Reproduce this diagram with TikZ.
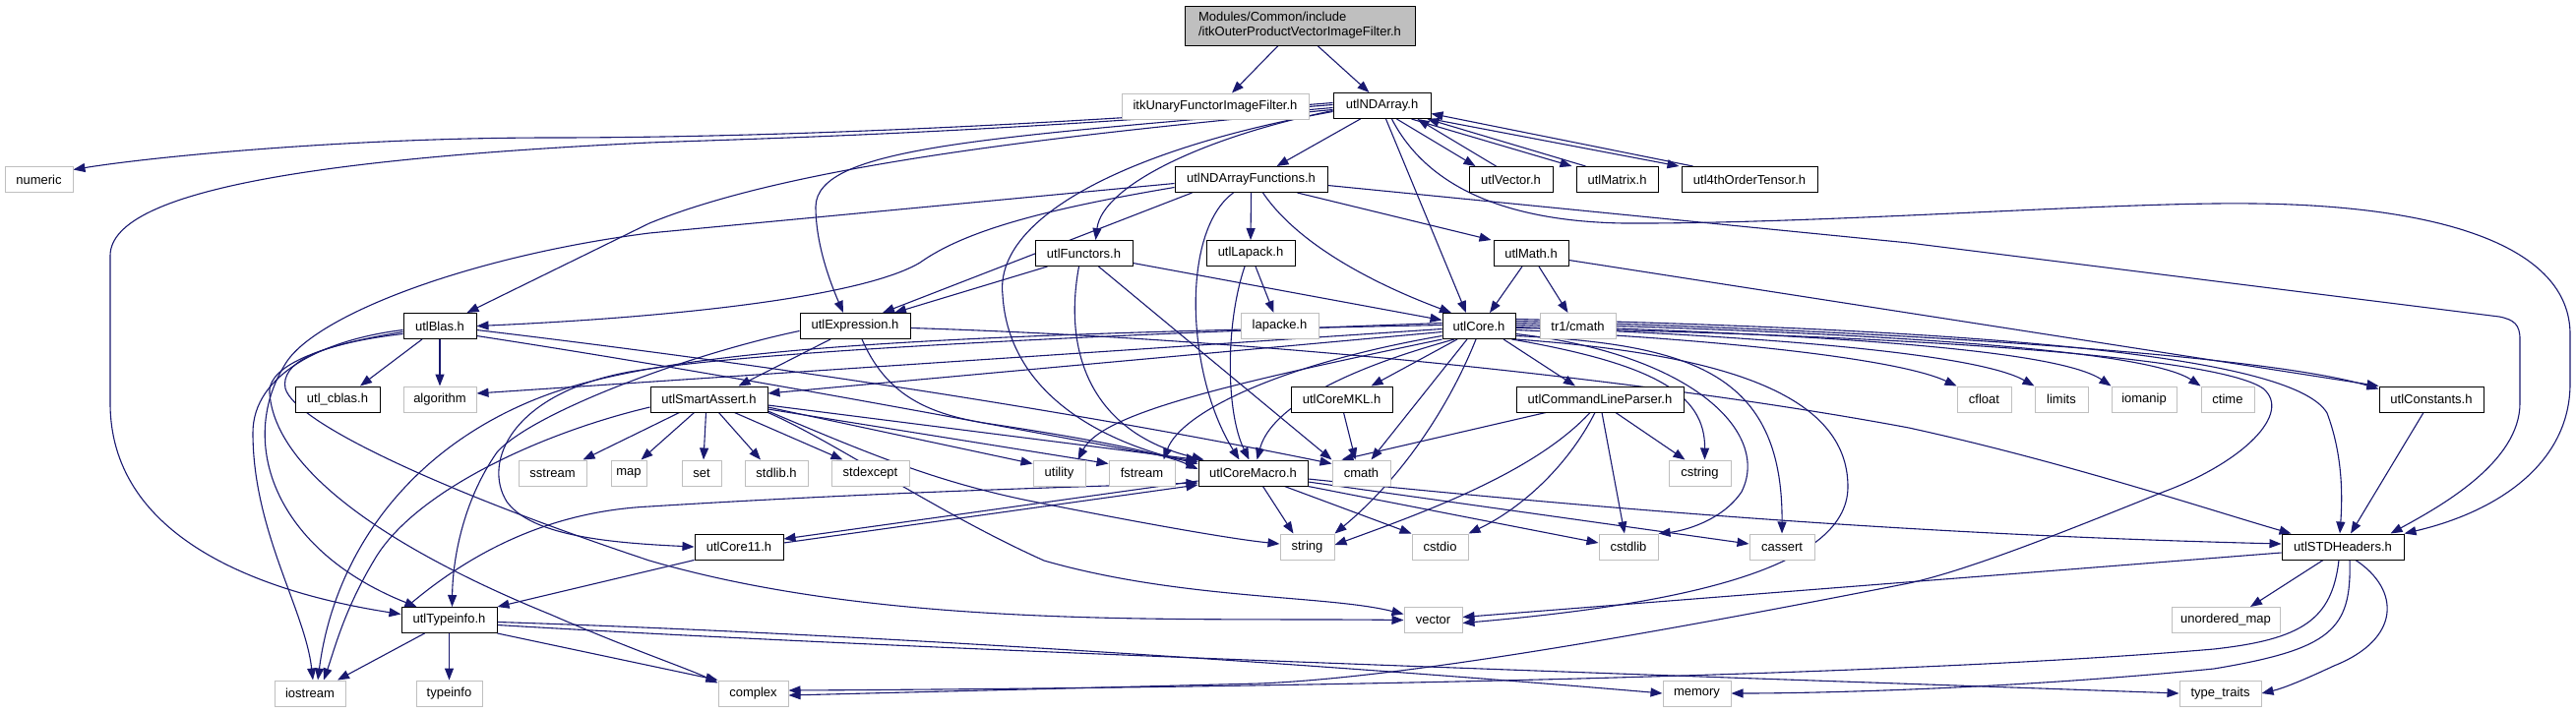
\documentclass[tikz,border=0pt]{standalone}
\usepackage{fontspec}
\setmainfont{Liberation Sans}
\usetikzlibrary{arrows.meta}
\pgfdeclarelayer{bg}
\pgfsetlayers{bg,main}
\definecolor{edgec}{HTML}{191970}
\definecolor{grayc}{HTML}{BFBFBF}
\newcommand{\gfont}{\fontsize{13}{15}\selectfont}
\tikzset{
  edg/.style={draw=edgec, line width=1.1pt, -{Triangle[length=12pt,width=9pt]}},
  bx/.style={draw=black, fill=white, line width=1pt, inner sep=0pt, minimum height=26pt, font=\gfont},
  gx/.style={draw=grayc, fill=white, line width=1pt, inner sep=0pt, minimum height=26pt, font=\gfont},
}
\begin{document}
\begin{tikzpicture}[x=1pt,y=-1pt]
\useasboundingbox (0,0) rectangle (2618,724);
% nodes
\node[bx, fill=grayc, minimum width=234pt, minimum height=40pt, align=left] (main) at (1321,26) {Modules/Common/include\\/itkOuterProductVectorImageFilter.h};
\node[gx, minimum width=190pt] (itkU) at (1235,108) {itkUnaryFunctorImageFilter.h};
\node[bx, minimum width=99pt] (NDA) at (1404.5,107.5) {utlNDArray.h};
\node[gx, minimum width=69pt] (numeric) at (39.5,182.5) {numeric};
\node[bx, minimum width=155pt] (NDAF) at (1271.5,182.5) {utlNDArrayFunctions.h};
\node[bx, minimum width=85pt] (Vec) at (1535.5,182.5) {utlVector.h};
\node[bx, minimum width=83pt] (Mat) at (1643.5,182.5) {utlMatrix.h};
\node[bx, minimum width=138pt] (Ten) at (1778,182.5) {utl4thOrderTensor.h};
\node[bx, minimum width=99pt] (Fun) at (1101.5,257.5) {utlFunctors.h};
\node[bx, minimum width=90pt] (Lap) at (1271,257.5) {utlLapack.h};
\node[bx, minimum width=76pt] (Math) at (1556,257.5) {utlMath.h};
\node[bx, minimum width=74pt] (Blas) at (447,331.5) {utlBlas.h};
\node[bx, minimum width=112pt] (Expr) at (869,331.5) {utlExpression.h};
\node[gx, minimum width=79pt] (lapacke) at (1300.5,331.5) {lapacke.h};
\node[bx, minimum width=74pt] (Core) at (1503,331.5) {utlCore.h};
\node[gx, minimum width=77pt] (trcmath) at (1603.5,331.5) {tr1/cmath};
\node[bx, minimum width=86pt] (cblas) at (343,406) {utl\_cblas.h};
\node[gx, minimum width=74pt] (algo) at (447,406) {algorithm};
\node[bx, minimum width=119pt] (SA) at (720.5,406) {utlSmartAssert.h};
\node[bx, minimum width=103pt] (MKL) at (1363.5,406) {utlCoreMKL.h};
\node[bx, minimum width=170pt] (CLP) at (1626,406) {utlCommandLineParser.h};
\node[gx, minimum width=55pt] (cfloat) at (2016.5,406) {cfloat};
\node[gx, minimum width=54pt] (limits) at (2095,406) {limits};
\node[gx, minimum width=66pt] (iomanip) at (2179,406) {iomanip};
\node[gx, minimum width=54pt] (ctime) at (2264,406) {ctime};
\node[bx, minimum width=106pt] (Const) at (2471,406) {utlConstants.h};
\node[gx, minimum width=69pt] (sstream) at (561.5,481) {sstream};
\node[gx, minimum width=36pt] (map) at (639,481) {map};
\node[gx, minimum width=40pt] (set) at (713,481) {set};
\node[gx, minimum width=64pt] (stdlibh) at (789,481) {stdlib.h};
\node[gx, minimum width=79pt] (stdexc) at (884.5,481) {stdexcept};
\node[gx, minimum width=53pt] (utility) at (1076.5,481) {utility};
\node[gx, minimum width=67pt] (fstream) at (1160.5,481) {fstream};
\node[bx, minimum width=111pt] (CM) at (1273.5,481) {utlCoreMacro.h};
\node[gx, minimum width=59pt] (cmath) at (1383.5,481) {cmath};
\node[gx, minimum width=63pt] (cstring) at (1727.5,481) {cstring};
\node[bx, minimum width=90pt] (C11) at (751,556) {utlCore11.h};
\node[gx, minimum width=55pt] (string) at (1328.5,556) {string};
\node[gx, minimum width=57pt] (cstdio) at (1463.5,556) {cstdio};
\node[gx, minimum width=60pt] (cstdlib) at (1655,556) {cstdlib};
\node[gx, minimum width=66pt] (cassert) at (1811,556) {cassert};
\node[bx, minimum width=124pt] (STD) at (2381,556) {utlSTDHeaders.h};
\node[bx, minimum width=97pt] (TI) at (456.5,630.5) {utlTypeinfo.h};
\node[gx, minimum width=59pt] (vector) at (1456.5,630.5) {vector};
\node[gx, minimum width=110pt] (umap) at (2262,630.5) {unordered\_map};
\node[gx, minimum width=72pt] (iostream) at (315,705) {iostream};
\node[gx, minimum width=67pt] (typeinfo) at (456.5,705) {typeinfo};
\node[gx, minimum width=71pt] (complex) at (765.5,705) {complex};
\node[gx, minimum width=69pt] (memory) at (1724.5,705) {memory};
\node[gx, minimum width=83pt] (ttraits) at (2256.5,705) {type\_traits};

\begin{pgfonlayer}{bg}
\fill[white] (0,0) rectangle (2618,724);
% main
\draw[edg] ([xshift=-22pt]main.south) -- ([xshift=17pt]itkU.north);
\draw[edg] ([xshift=18pt]main.south) -- ([xshift=-13pt]NDA.north);
% utlNDArray
\draw[edg] ([yshift=3pt]NDA.west) .. controls (1100,125) and (800,140) .. (560,140) .. controls (350,140) and (150,160) .. ([yshift=10pt]numeric.east);
\draw[edg] ([yshift=1pt]NDA.west) .. controls (1000,135) and (800,140) .. (660,145) .. controls (350,160) and (112,190) .. (112,260) -- (112,410) .. controls (112,540) and (250,600) .. ([yshift=6pt]TI.west);
\draw[edg] ([yshift=-4pt]NDA.west) .. controls (1050,140) and (800,170) .. (660,227) -- ([xshift=-10pt]Blas.north east);
\draw[edg] ([yshift=-2pt]NDA.west) .. controls (1000,140) and (830,150) .. (829,210) .. controls (829,250) and (845,290) .. ([xshift=-12pt]Expr.north);
\draw[edg] ([xshift=-22pt]NDA.south) -- ([xshift=26pt]NDAF.north);
\draw[edg] ([yshift=-5pt]NDA.west) .. controls (1220,140) and (1120,190) .. ([xshift=12pt]Fun.north);
\draw[edg] ([yshift=-6pt]NDA.west) .. controls (1150,150) and (1010,220) .. (1019,300) .. controls (1025,400) and (1120,450) .. ([yshift=-4pt]CM.north west);
\draw[edg] ([xshift=4pt]NDA.south) -- ([xshift=-13pt]Core.north);
\draw[edg] ([xshift=15pt]NDA.south) -- ([xshift=-36pt]Vec.north);
\draw[edg] ([xshift=-15pt]Vec.north) -- ([xshift=-14pt]NDA.south east);
\draw[edg] ([xshift=-20pt]NDA.south east) -- ([xshift=-4pt]Mat.north west);
\draw[edg] ([xshift=10pt]Mat.north west) -- ([xshift=-4pt]NDA.south east);
\draw[edg] (NDA.south east) -- ([xshift=-2pt]Ten.north west);
\draw[edg] ([xshift=12pt]Ten.north west) -- ([yshift=-8pt]NDA.east);
\draw[edg] ([xshift=10pt]NDA.south) .. controls (1450,190) and (1530,225) .. (1650,227) .. controls (1850,228) and (2150,205) .. (2290,207) .. controls (2480,209) and (2612,250) .. (2612,340) -- (2612,390) .. controls (2612,470) and (2540,520) .. (STD.north east);
% utlNDArrayFunctions
\draw[edg] ([yshift=-8pt]NDAF.west) .. controls (1060,213) and (980,235) .. (935,267) .. controls (880,300) and (700,322) .. (Blas.east);
\draw[edg] ([xshift=-60pt]NDAF.south) -- ([xshift=28pt]Expr.north);
\draw[edg] ([yshift=-4pt]NDAF.west) -- (660,237) .. controls (480,260) and (320,320) .. (290,370) .. controls (240,450) and (280,560) .. ([xshift=16pt]TI.north west);
\draw[edg] (NDAF.south) -- (Lap.north);
\draw[edg] ([xshift=47pt]NDAF.south) -- ([xshift=-2pt]Math.north west);
\draw[edg] ([xshift=12pt]NDAF.south) .. controls (1320,250) and (1400,290) .. ([xshift=-28pt]Core.north);
\draw[edg] ([xshift=-18pt]NDAF.south) .. controls (1200,235) and (1205,380) .. ([xshift=-14pt]CM.north);
\draw[edg] ([yshift=-6pt]NDAF.east) -- (1940,247) -- (2540,322) .. controls (2555,325) and (2561,330) .. (2561,345) -- (2561,410) .. controls (2561,470) and (2480,515) .. ([xshift=-14pt]STD.north east);
% utlFunctors
\draw[edg] ([xshift=-37pt]Fun.south) -- ([xshift=40pt]Expr.north);
\draw[edg] ([yshift=-10pt]Fun.east) -- ([yshift=6pt]Core.west);
\draw[edg] ([xshift=-5pt]Fun.south) .. controls (1080,360) and (1110,440) .. ([xshift=6pt]CM.north west);
\draw[edg] ([xshift=15pt]Fun.south) -- (cmath.north west);
% utlLapack
\draw[edg] ([xshift=5pt]Lap.south) -- ([xshift=-6pt]lapacke.north);
\draw[edg] ([xshift=-6pt]Lap.south) .. controls (1245,330) and (1246,420) .. ([xshift=-4pt]CM.north);
% utlMath
\draw[edg] ([xshift=-9pt]Math.south) -- ([xshift=11pt]Core.north);
\draw[edg] ([xshift=8pt]Math.south) -- ([xshift=-10pt]trcmath.north);
\draw[edg] ([yshift=-7pt]Math.east) -- (Const.north west);
% utlBlas
\draw[edg] ([xshift=-18pt]Blas.south) -- ([xshift=23pt]cblas.north);
\draw[edg] (Blas) -- (algo);
\draw[edg] ([yshift=-4pt]Blas.east) .. controls (900,385) and (1200,440) .. ([yshift=-4pt]cmath.north west);
\draw[edg] ([yshift=-10pt]Blas.east) .. controls (800,390) and (1100,450) .. ([yshift=-2pt]CM.north west);
\draw[edg] ([yshift=-4pt]Blas.west) .. controls (330,345) and (257,380) .. (257,440) .. controls (257,540) and (310,620) .. ([xshift=3pt]iostream.north);
\draw[edg] ([yshift=-6pt]Blas.west) .. controls (300,355) and (272,380) .. (274,400) .. controls (280,480) and (400,560) .. (560,625) .. controls (640,660) and (700,680) .. ([yshift=-3pt]complex.north west);
\draw[edg] ([yshift=-8pt]Blas.west) .. controls (320,350) and (285,370) .. (290,395) .. controls (300,430) and (450,500) .. (660,570) .. controls (900,640) and (1200,628) .. (vector.west);
% utlExpression
\draw[edg] ([xshift=-25pt]Expr.south) -- ([xshift=30pt]SA.north);
\draw[edg] ([xshift=7pt]Expr.south) .. controls (900,400) and (940,420) .. (1000,430) .. controls (1100,445) and (1180,460) .. ([yshift=4pt]CM.west);
\draw[edg] ([yshift=-5pt]Expr.west) .. controls (700,360) and (540,420) .. (505,460) .. controls (470,510) and (460,570) .. ([xshift=3pt]TI.north);
\draw[edg] ([yshift=-2pt]Expr.east) .. controls (1300,345) and (1700,390) .. (1940,435) .. controls (2100,470) and (2250,520) .. ([xshift=10pt]STD.north west);
% utlCore
\draw[edg] ([yshift=-3pt]Core.west) -- ([yshift=6pt]algo.east);
\draw[edg] ([yshift=-6pt]Core.west) -- ([yshift=6pt]SA.east);
\draw[edg] ([xshift=-22pt]Core.south) -- ([xshift=30pt]MKL.north);
\draw[edg] ([xshift=25pt]Core.south) -- ([xshift=-25pt]CLP.north);
\draw[edg] ([xshift=-12pt]Core.south) -- ([xshift=10pt]cmath.north);
\draw[edg] ([xshift=-3pt]Core.south) .. controls (1470,420) and (1420,490) .. (string.north east);
\draw[edg] ([yshift=-10pt]Core.west) .. controls (1300,370) and (1200,420) .. ([xshift=-12pt]fstream.north east);
\draw[edg] (Core.south west) .. controls (1250,390) and (1120,420) .. ([xshift=-8pt]utility.north east);
\draw[edg] ([xshift=-25pt]Core.south) .. controls (1350,380) and (1290,420) .. ([xshift=4pt]CM.north);
\draw[edg] ([yshift=1pt]Core.west) .. controls (1000,340) and (700,350) .. (560,400) .. controls (420,450) and (340,560) .. ([xshift=8pt]iostream.north);
\draw[edg] ([yshift=3pt]Core.west) .. controls (1000,345) and (750,360) .. (640,378) .. controls (520,400) and (490,470) .. (515,510) .. controls (540,545) and (620,552) .. (C11.west);
\draw[edg] (Core.south east) .. controls (1750,360) and (1878,400) .. (1878,495) .. controls (1878,580) and (1700,615) .. ([yshift=-3pt]vector.east);
\draw[edg] ([yshift=-2pt]Core.east) .. controls (1900,340) and (2250,360) .. (2300,395) .. controls (2330,420) and (2280,470) .. (2199,500) .. controls (2100,540) and (2000,580) .. (1940,593) .. controls (1600,660) and (1400,690) .. (1280,695) -- ([yshift=-2pt]complex.east);
\draw[edg] ([yshift=-4pt]Core.east) .. controls (1750,345) and (1930,365) .. (cfloat.north west);
\draw[edg] ([yshift=-1pt]Core.east) .. controls (1800,342) and (2010,360) .. (limits.north west);
\draw[edg] ([yshift=1pt]Core.east) .. controls (1850,340) and (2090,355) .. (iomanip.north west);
\draw[edg] ([yshift=3pt]Core.east) .. controls (1900,338) and (2180,355) .. (ctime.north west);
\draw[edg] ([yshift=5pt]Core.east) .. controls (1900,335) and (2300,360) .. ([yshift=-3pt]Const.north west);
\draw[edg] ([yshift=7pt]Core.east) .. controls (2000,335) and (2330,360) .. (2365,420) .. controls (2380,460) and (2381,500) .. ([xshift=-3pt]STD.north);
\draw[edg] ([xshift=-4pt]Core.south east) .. controls (1680,370) and (1733,400) .. ([xshift=5pt]cstring.north);
\draw[edg] ([yshift=-8pt]Core.east) .. controls (1720,360) and (1800,440) .. (1770,500) .. controls (1750,530) and (1710,540) .. (cstdlib.north east);
\draw[edg] ([yshift=-10pt]Core.east) .. controls (1720,350) and (1812,380) .. (cassert.north);
% utlCoreMKL
\draw[edg] ([xshift=2pt]MKL.south) -- ([xshift=-6pt]cmath.north);
% utlCommandLineParser
\draw[edg] ([xshift=-55pt]CLP.south) -- ([xshift=-20pt]cmath.north);
\draw[edg] ([xshift=-10pt]CLP.south) .. controls (1560,480) and (1450,520) .. ([yshift=2pt]string.east);
\draw[edg] ([xshift=-5pt]CLP.south) .. controls (1590,480) and (1540,520) .. (cstdio.north east);
\draw[edg] ([xshift=2pt]CLP.south) -- ([xshift=-4pt]cstdlib.north);
\draw[edg] ([xshift=16pt]CLP.south) -- ([xshift=-15pt]cstring.north);
% utlCoreMacro
\draw[edg] ([xshift=10pt]CM.south) -- ([xshift=-14pt]string.north);
\draw[edg] ([xshift=32pt]CM.south) -- (cstdio.north west);
\draw[edg] (CM.south east) -- ([yshift=4pt]cstdlib.west);
\draw[edg] ([yshift=-9pt]CM.east) -- ([yshift=3pt]cassert.west);
\draw[edg] ([yshift=-6pt]CM.east) .. controls (1700,525) and (2000,545) .. ([yshift=3pt]STD.west);
\draw[edg] ([yshift=-8pt]CM.west) -- ([yshift=8pt]C11.east);
% utlCore11
\draw[edg] ([yshift=4pt]C11.east) -- ([yshift=-12pt]CM.west);
\draw[edg] (C11.south west) -- (TI.north east);
% utlTypeinfo
\draw[edg] ([xshift=6pt]TI.north west) .. controls (480,560) and (560,520) .. (660,515) .. controls (900,500) and (1100,495) .. ([yshift=-10pt]CM.west);
\draw[edg] ([xshift=-25pt]TI.south) -- ([xshift=28pt]iostream.north);
\draw[edg] (TI) -- (typeinfo);
\draw[edg] (TI.south east) -- (complex.north west);
\draw[edg] ([yshift=-2pt]TI.east) .. controls (900,645) and (1400,680) .. (memory.west);
\draw[edg] ([yshift=-5pt]TI.east) .. controls (1000,665) and (1800,690) .. (ttraits.west);
% utlSmartAssert
\draw[edg] ([xshift=-30pt]SA.south) -- ([xshift=-4pt]sstream.north east);
\draw[edg] ([xshift=-15pt]SA.south) -- ([xshift=-6pt]map.north east);
\draw[edg] ([xshift=-3pt]SA.south) -- ([xshift=2pt]set.north);
\draw[edg] ([xshift=10pt]SA.south) -- ([xshift=-16pt]stdlibh.north);
\draw[edg] ([xshift=26pt]SA.south) -- ([xshift=-28pt]stdexc.north);
\draw[edg] ([yshift=-8pt]SA.east) -- ([yshift=-4pt]utility.north west);
\draw[edg] ([yshift=-10pt]SA.east) -- ([yshift=-4pt]fstream.north west);
\draw[edg] ([yshift=-6pt]SA.east) -- (CM.north west);
\draw[edg] ([yshift=-12pt]SA.east) .. controls (880,460) and (950,490) .. (1050,510) .. controls (1150,530) and (1250,548) .. ([yshift=3pt]string.west);
\draw[edg] (SA.south east) .. controls (850,450) and (950,520) .. (1061,570) .. controls (1200,610) and (1350,605) .. ([yshift=6pt]vector.west);
\draw[edg] ([yshift=-8pt]SA.west) .. controls (550,440) and (420,500) .. (380,570) .. controls (350,620) and (340,660) .. ([xshift=14pt]iostream.north);
% utlSTDHeaders
\draw[edg] ([yshift=-6pt]STD.west) -- ([yshift=3pt]vector.east);
\draw[edg] ([xshift=-20pt]STD.south) -- ([xshift=25pt]umap.north);
\draw[edg] ([xshift=-4pt]STD.south) .. controls (2370,630) and (2340,650) .. (2250,660) .. controls (1900,690) and (1200,700) .. ([yshift=3pt]complex.east);
\draw[edg] ([xshift=7pt]STD.south) .. controls (2390,640) and (2370,660) .. (2250,680) .. controls (2050,700) and (1850,705) .. (memory.east);
\draw[edg] ([xshift=13pt]STD.south) .. controls (2440,600) and (2440,650) .. (2372,677) .. controls (2340,692) and (2320,700) .. (ttraits.east);
% utlConstants
\draw[edg] ([xshift=-8pt]Const.south) -- ([xshift=8pt]STD.north);
\end{pgfonlayer}
\end{tikzpicture}
\end{document}
